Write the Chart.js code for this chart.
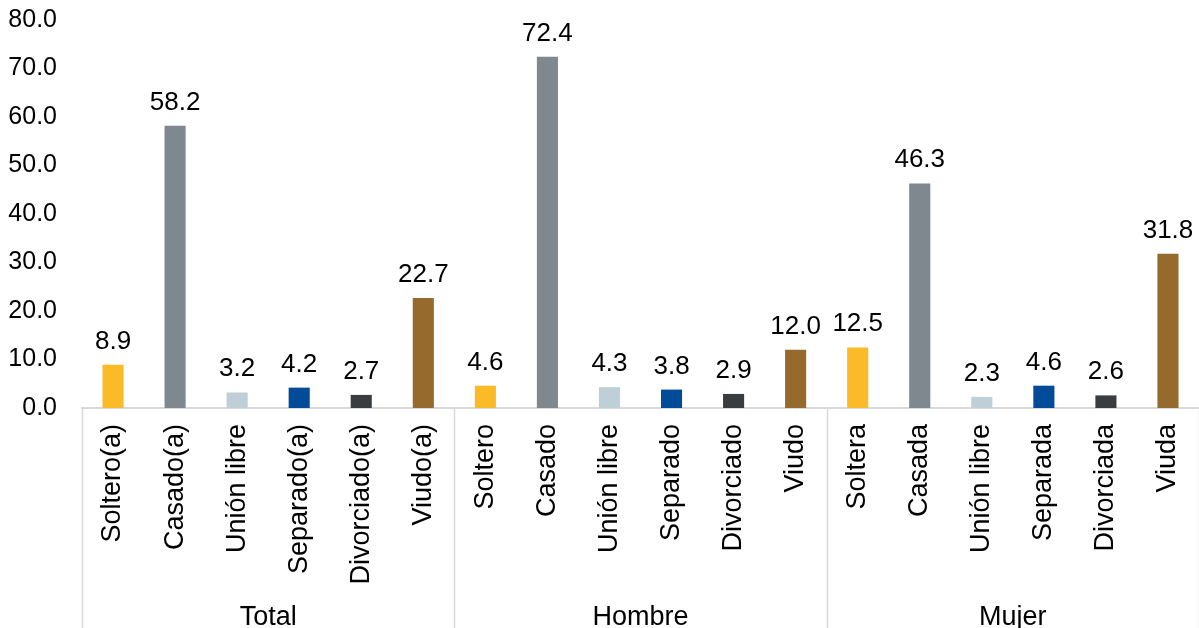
<!DOCTYPE html>
<html>
<head>
<meta charset="utf-8">
<script src="https://cdn.jsdelivr.net/npm/chart.js@4"></script>
<style>
  html, body { margin: 0; padding: 0; background: #fff; }
  #wrap { width: 1199px; height: 628px; }
</style>
</head>
<body>
<div id="wrap"><canvas id="c" width="1199" height="628"></canvas></div>
<script>
const groups = ['Total', 'Hombre', 'Mujer'];
const categories = [
  'Soltero(a)', 'Casado(a)', 'Unión libre', 'Separado(a)', 'Divorciado(a)', 'Viudo(a)',
  'Soltero', 'Casado', 'Unión libre', 'Separado', 'Divorciado', 'Viudo',
  'Soltera', 'Casada', 'Unión libre', 'Separada', 'Divorciada', 'Viuda'
];
const totalValues = [8.9, 58.2, 3.2, 4.2, 2.7, 22.7];
const hombreValues = [4.6, 72.4, 4.3, 3.8, 2.9, 12.0];
const mujerValues = [12.5, 46.3, 2.3, 4.6, 2.6, 31.8];
const yTicks = [0, 10, 20, 30, 40, 50, 60, 70, 80];
const statusColors = ['#FBBA27', '#7E888E', '#BFCFD7', '#024B98', '#3A3D40', '#956A2C'];

const values = [...totalValues, ...hombreValues, ...mujerValues];
const groupSize = totalValues.length;
const barColors = values.map((v, i) => statusColors[i % groupSize]);

const FONT = 'Liberation Sans, Arial, sans-serif';
const FS = 25;
const FS_CAT = 27;
const FS_VAL = 26;

const decorPlugin = {
  id: 'decor',
  afterDatasetsDraw(chart) {
    const ctx = chart.ctx;
    const x = chart.scales.x;
    const area = chart.chartArea;
    const meta = chart.getDatasetMeta(0);
    ctx.save();
    ctx.fillStyle = '#000';
    ctx.textAlign = 'center';
    ctx.textBaseline = 'alphabetic';
    ctx.font = FS_VAL + 'px ' + FONT;
    meta.data.forEach((bar, i) => {
      ctx.fillText(values[i].toFixed(1), bar.x, bar.y - 16);
    });
    const step = x.getPixelForValue(1) - x.getPixelForValue(0);
    ctx.strokeStyle = '#D9D9D9';
    ctx.lineWidth = 1.5;
    for (let g = 0; g <= groups.length; g++) {
      const px = Math.round(x.getPixelForValue(g * groupSize) - step / 2) + 0.5;
      ctx.beginPath();
      ctx.moveTo(px, area.bottom);
      ctx.lineTo(px, chart.height);
      ctx.stroke();
    }
    ctx.font = FS_CAT + 'px ' + FONT;
    groups.forEach((name, g) => {
      const l = x.getPixelForValue(g * groupSize) - step / 2;
      const r = x.getPixelForValue((g + 1) * groupSize - 1) + step / 2;
      ctx.fillText(name, (l + r) / 2, chart.height - 3);
    });
    ctx.restore();
  }
};

new Chart(document.getElementById('c'), {
  type: 'bar',
  data: {
    labels: categories,
    datasets: [{
      data: values,
      backgroundColor: barColors,
      borderWidth: 0,
      categoryPercentage: 1.0,
      barPercentage: 0.34
    }]
  },
  options: {
    responsive: false,
    animation: false,
    devicePixelRatio: 1,
    layout: { padding: { top: 20, right: 0, left: 0, bottom: 0 } },
    plugins: { legend: { display: false }, tooltip: { enabled: false } },
    scales: {
      x: {
        grid: { display: false, drawTicks: false },
        border: { display: true, color: '#D9D9D9', width: 2 },
        ticks: {
          color: '#000',
          font: { family: FONT, size: FS_CAT },
          minRotation: 90,
          maxRotation: 90,
          autoSkip: false,
          padding: 16
        },
        afterFit(scale) {
          scale.height = 220;
          scale.paddingLeft = 0;
          scale.paddingRight = 0;
          scale.paddingTop = 0;
          scale.paddingBottom = 0;
        }
      },
      y: {
        min: 0,
        max: 80,
        grid: { display: false, drawTicks: false },
        border: { display: false },
        afterBuildTicks(scale) { scale.ticks = yTicks.map(v => ({ value: v })); },
        ticks: {
          color: '#000',
          font: { family: FONT, size: FS },
          padding: 25,
          callback: v => Number(v).toFixed(1)
        },
        afterFit(scale) {
          scale.width = 82;
          scale.paddingTop = 0;
          scale.paddingBottom = 0;
        }
      }
    }
  },
  plugins: [decorPlugin]
});
</script>
</body>
</html>
